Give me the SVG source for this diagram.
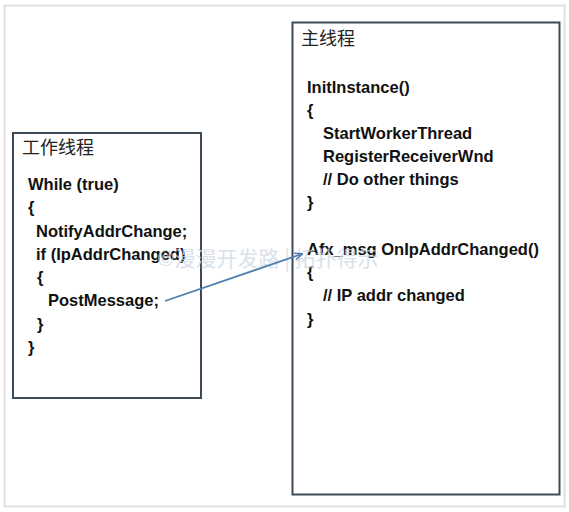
<svg xmlns="http://www.w3.org/2000/svg" width="569" height="512" viewBox="0 0 569 512">
  <style>
    .box { fill: #ffffff; stroke: #3c4a57; stroke-width: 2; }
    .code { font-family: "Liberation Sans", Arial, sans-serif; font-weight: bold; font-size: 16.5px; fill: #111111; }
    .title { font-family: "Noto Sans CJK SC", "Noto Sans", sans-serif; font-size: 18px; fill: #222222; }
    .wm { font-family: "Noto Sans CJK SC", sans-serif; font-size: 21px; fill: #cdd8e3; opacity: 0.75; }
    .conn { stroke: #4f7fae; stroke-width: 1.8; fill: none; }
  </style>
  <defs>
    <marker id="arrow" viewBox="0 0 10 10" refX="9" refY="5" markerWidth="8" markerHeight="8" orient="auto" markerUnits="userSpaceOnUse">
      <path d="M0,1 L10,5 L0,9" fill="none" stroke="#4f7fae" stroke-width="1.8"/>
    </marker>
  </defs>
  <rect x="0" y="0" width="569" height="512" fill="#ffffff"/>
  <rect x="4.5" y="5.5" width="560" height="501" fill="none" stroke="#e0e0e0" stroke-width="2"/>

  <g id="worker-thread">
    <rect class="box" x="13" y="133" width="188" height="265"/>
    <text class="title" x="22" y="154">工作线程</text>
    <text class="code" x="28" y="190">While (true)</text>
    <text class="code" x="28" y="213">{</text>
    <text class="code" x="36" y="237">NotifyAddrChange;</text>
    <text class="code" x="36" y="260">if (IpAddrChanged)</text>
    <text class="code" x="37" y="283">{</text>
    <text class="code" x="48" y="306">PostMessage;</text>
    <text class="code" x="37" y="330">}</text>
    <text class="code" x="28" y="353">}</text>
  </g>

  <g id="main-thread">
    <rect class="box" x="292.5" y="22.5" width="267" height="472"/>
    <text class="title" x="301" y="45">主线程</text>
    <text class="code" x="307" y="93">InitInstance()</text>
    <text class="code" x="307" y="116">{</text>
    <text class="code" x="323" y="139">StartWorkerThread</text>
    <text class="code" x="323" y="162">RegisterReceiverWnd</text>
    <text class="code" x="323" y="185">// Do other things</text>
    <text class="code" x="307" y="208">}</text>
    <text class="code" x="307" y="255">Afx_msg OnIpAddrChanged()</text>
    <text class="code" x="307" y="278">{</text>
    <text class="code" x="323" y="301">// IP addr changed</text>
    <text class="code" x="307" y="325">}</text>
  </g>

  <text class="wm" x="157" y="266">©漫漫开发路 | 拓扑得示</text>

  <g id="connectors">
    <line class="conn" x1="165" y1="301" x2="302" y2="254" marker-end="url(#arrow)"/>
  </g>
</svg>
